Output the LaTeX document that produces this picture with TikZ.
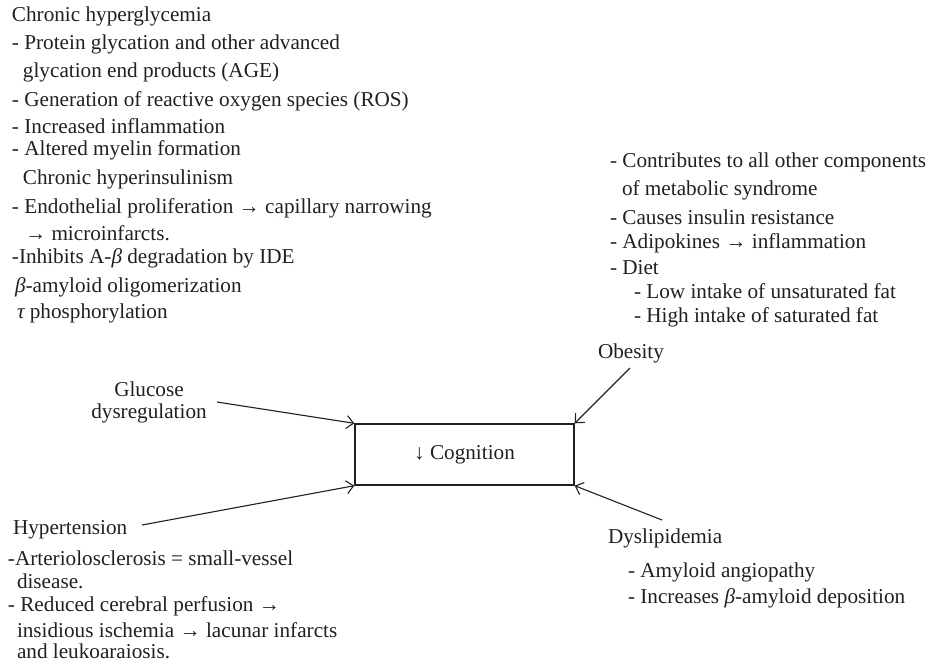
\documentclass[tikz,border=0pt]{standalone}
\usepackage{fontspec}
\setmainfont{Liberation Serif}
\usetikzlibrary{arrows.meta}
\definecolor{ink}{HTML}{231F20}
\tikzset{
  txt/.style={anchor=base west, inner sep=0pt, outer sep=0pt, text=ink,
    font=\fontsize{21.2}{25}\selectfont},
  ctxt/.style={anchor=base, inner sep=0pt, outer sep=0pt, text=ink,
    font=\fontsize{21.2}{25}\selectfont},
  cogbox/.style={draw=ink, line width=1.4pt, minimum width=219pt, minimum height=61pt,
    inner sep=0pt, text=ink, font=\fontsize{21.2}{25}\selectfont},
  link/.style={draw=ink, line width=1.1pt, -{Straight Barb[length=7pt,width=13pt,line width=1.1pt]}}
}
\begin{document}
\begin{tikzpicture}[x=1pt,y=-1pt]
\useasboundingbox (0,0) rectangle (934,665);
% central box
\node[cogbox] (cog) at (464.5,454.5) {↓ Cognition};
% top-left block
\node[txt] (t1) at (12,21) {Chronic hyperglycemia};
\node[txt] (t2) at (12,49) {- Protein glycation and other advanced};
\node[txt] (t3) at (23,77) {glycation end products (AGE)};
\node[txt] (t4) at (12,106) {- Generation of reactive oxygen species (ROS)};
\node[txt] (t5) at (12,133) {- Increased inflammation};
\node[txt] (t6) at (12,155) {- Altered myelin formation};
\node[txt] (t7) at (23,184) {Chronic hyperinsulinism};
\node[txt] (t8) at (12,213) {- Endothelial proliferation → capillary narrowing};
\node[txt] (t9) at (25,240) {→ microinfarcts.};
\node[txt] (t10) at (12,263) {-Inhibits A-{\itshape β} degradation by IDE};
\node[txt] (t11) at (15,292) {{\itshape β}-amyloid oligomerization};
\node[txt] (t12) at (17,318) {{\itshape τ} phosphorylation};
% right block
\node[txt] (r1) at (610,167) {- Contributes to all other components};
\node[txt] (r2) at (622,195) {of metabolic syndrome};
\node[txt] (r3) at (610,224) {- Causes insulin resistance};
\node[txt] (r4) at (610,248) {- Adipokines → inflammation};
\node[txt] (r5) at (610,274) {- Diet};
\node[txt] (r6) at (634,298) {- Low intake of unsaturated fat};
\node[txt] (r7) at (634,322) {- High intake of saturated fat};
% labels
\node[txt] (obesity) at (598,358) {Obesity};
\node[ctxt] (glu1) at (149,396) {Glucose};
\node[ctxt] (glu2) at (149,418) {dysregulation};
\node[txt] (hyper) at (13,534) {Hypertension};
\node[txt] (dys) at (608,543) {Dyslipidemia};
% bottom-left block
\node[txt] (b1) at (8,565) {-Arteriolosclerosis = small-vessel};
\node[txt] (b2) at (17,588) {disease.};
\node[txt] (b3) at (8,611) {- Reduced cerebral perfusion →};
\node[txt] (b4) at (17,637) {insidious ischemia → lacunar infarcts};
\node[txt] (b5) at (17,658) {and leukoaraiosis.};
% bottom-right block
\node[txt] (d1) at (628,577) {- Amyloid angiopathy};
\node[txt] (d2) at (628,603) {- Increases {\itshape β}-amyloid deposition};
% arrow starts
\coordinate (gluS) at (217,402);
\coordinate (obeS) at (630,368);
\coordinate (hypS) at (142,525);
\coordinate (dysS) at (662,520);
\draw[link] (gluS) -- (cog.north west);
\draw[link] (obeS) -- (cog.north east);
\draw[link] (hypS) -- (cog.south west);
\draw[link] (dysS) -- (cog.south east);
\end{tikzpicture}
\end{document}
